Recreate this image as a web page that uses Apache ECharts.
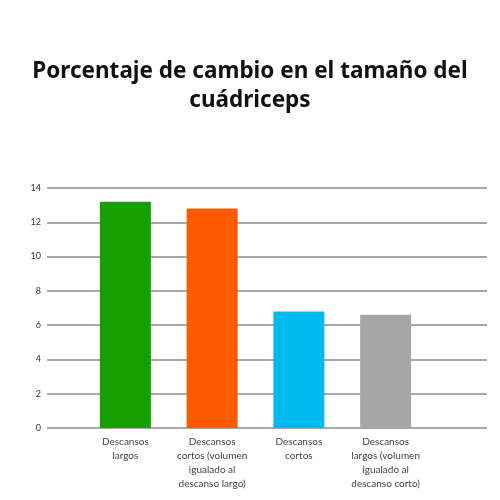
<!DOCTYPE html>
<html>
<head>
<meta charset="UTF-8">
<title>Porcentaje de cambio</title>
<script type="text/javascript" src="https://cdn.jsdelivr.net/npm/echarts@6/dist/echarts.min.js"></script>
<style>
  body{margin:0}
</style>
</head>
<body>
<div id="main" style="width:500px;height:500px"></div>
<script type="text/javascript">
var categories = [
  'Descansos\nlargos',
  'Descansos\ncortos (volumen\nigualado al\ndescanso largo)',
  'Descansos\ncortos',
  'Descansos\nlargos (volumen\nigualado al\ndescanso corto)'
];
var values = [13.2, 12.8, 6.8, 6.6];
var barColors = ['#16a000', '#ff5a00', '#00b9ef', '#a6a6a6'];
var yTicks = { min: 0, max: 14, step: 2 };

var myChart = echarts.init(document.getElementById('main'));

var option = {
  animation: false,
  title: {
    text: 'Porcentaje de cambio en el tamaño del\ncuádriceps',
    left: 'center',
    top: 52,
    textStyle: {
      fontFamily: 'Noto Sans',
      fontWeight: 'bold',
      fontSize: 22.5,
      lineHeight: 29,
      color: '#111'
    }
  },
  grid: [
    // grid that carries the gridlines
    { left: 47, right: 13, top: 188, bottom: 72 },
    // grid that carries the bars
    { left: 82, width: 347, top: 188, bottom: 72 }
  ],
  xAxis: [
    { gridIndex: 0, type: 'category', data: [], show: false },
    {
      gridIndex: 1,
      type: 'category',
      data: categories,
      axisLine: { show: false },
      axisTick: { show: false },
      axisLabel: {
        margin: 7,
        fontFamily: 'Lato',
        fontSize: 10,
        lineHeight: 14,
        color: '#444',
        interval: 0
      }
    }
  ],
  yAxis: [
    {
      gridIndex: 0,
      type: 'value',
      min: yTicks.min,
      max: yTicks.max,
      interval: yTicks.step,
      axisLine: { show: false },
      axisTick: { show: false },
      axisLabel: { margin: 6, fontFamily: 'Lato', fontSize: 9, color: '#333' },
      splitLine: { lineStyle: { color: '#a8a8a8', width: 2 } }
    },
    {
      gridIndex: 1,
      type: 'value',
      min: yTicks.min,
      max: yTicks.max,
      show: false,
      splitLine: { show: false }
    }
  ],
  series: [
    {
      type: 'bar',
      xAxisIndex: 1,
      yAxisIndex: 1,
      barWidth: 51,
      data: values.map(function (v, i) {
        return { value: v, itemStyle: { color: barColors[i] } };
      })
    }
  ]
};

myChart.setOption(option);
</script>
</body>
</html>
